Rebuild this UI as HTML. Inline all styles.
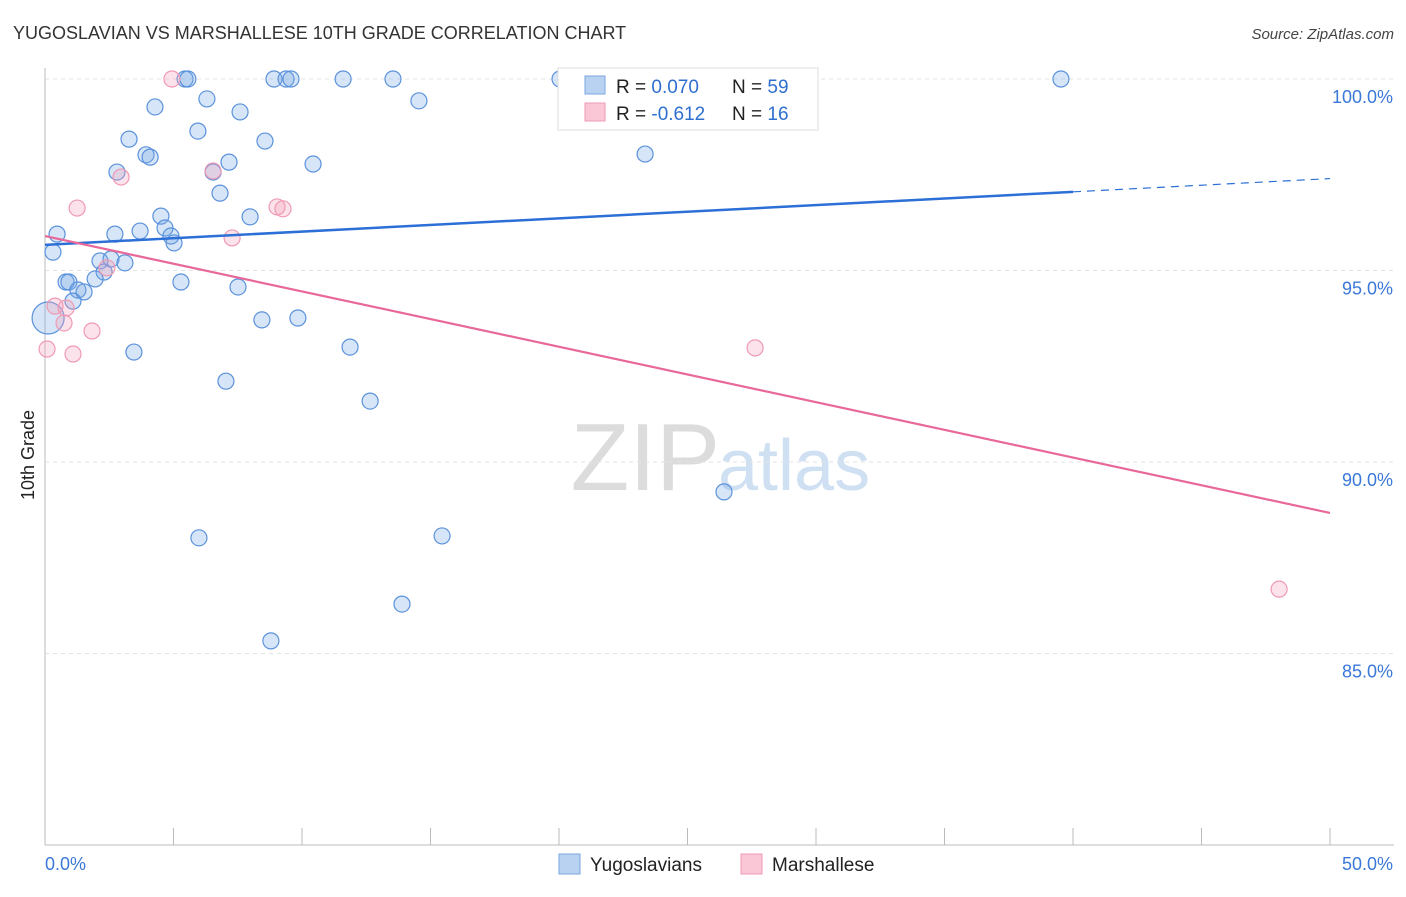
<!DOCTYPE html>
<html><head><meta charset="utf-8"><style>
body{margin:0;background:#fff;font-family:"Liberation Sans",sans-serif;}
svg text{font-family:"Liberation Sans",sans-serif;}
</style></head><body>
<svg id="chart" width="1406" height="892" xmlns="http://www.w3.org/2000/svg">
<text x="13" y="39" font-size="18" fill="#333">YUGOSLAVIAN VS MARSHALLESE 10TH GRADE CORRELATION CHART</text>
<text x="1394" y="39" font-size="15" fill="#444" text-anchor="end" font-style="italic">Source: ZipAtlas.com</text>
<text x="720" y="490" font-size="96" fill="#dcdcdc" text-anchor="end" font-family="Liberation Serif">ZIP</text>
<text x="718" y="490" font-size="72" fill="#cfe0f3">atlas</text>
<g id="grid"></g>
<g id="axes"></g>
<g id="marks"></g>
<text transform="translate(34,455) rotate(-90)" font-size="18" fill="#222" text-anchor="middle">10th Grade</text>
<g>
<rect x="558" y="68" width="260" height="62" fill="#fff" stroke="#ddd"/>
<rect x="585" y="76" width="20" height="18" fill="#b9d2f2" stroke="#7aa6e0"/>
<rect x="585" y="103" width="20" height="18" fill="#f9c7d5" stroke="#ee9ab2"/>
<text x="616" y="93" font-size="19" fill="#222">R = <tspan fill="#2f6fcf">0.070</tspan></text>
<text x="732" y="93" font-size="19" fill="#222">N = <tspan fill="#2f6fcf">59</tspan></text>
<text x="616" y="120" font-size="19" fill="#222">R = <tspan fill="#2f6fcf">-0.612</tspan></text>
<text x="732" y="120" font-size="19" fill="#222">N = <tspan fill="#2f6fcf"> 16</tspan></text>
</g>
<g>
<rect x="559" y="854" width="21" height="20" fill="#b9d2f2" stroke="#7aa6e0"/>
<text x="590" y="871" font-size="19" fill="#222">Yugoslavians</text>
<rect x="741" y="854" width="21" height="20" fill="#f9c7d5" stroke="#ee9ab2"/>
<text x="772" y="871" font-size="19" fill="#222">Marshallese</text>
</g>
</svg>
<script>
const xTicks=[0,5,10,15,20,25,30,35,40,45,50];
const yTicks=[85,90,95,100];
const yLabels=["85.0%","90.0%","95.0%","100.0%"];
const blueX=[0.47,0.31,0.82,0.93,1.28,1.52,1.09,2.14,2.30,2.57,1.95,3.11,2.72,3.70,4.51,4.67,4.90,5.02,3.27,4.28,3.93,4.09,2.80,5.95,6.30,7.59,6.54,7.16,6.81,7.98,8.56,10.43,5.29,7.51,3.46,7.04,8.44,9.84,11.87,12.65,5.99,15.45,13.89,8.79,5.45,5.56,8.91,9.38,9.57,11.60,13.54,14.55,20.04,20.62,23.35,26.42,39.53,0.12];
const blueY=[95.95,95.48,94.70,94.70,94.49,94.44,94.20,95.25,94.96,95.30,94.78,95.20,95.95,96.03,96.42,96.11,95.90,95.72,98.43,99.27,98.02,97.96,97.57,98.64,99.48,99.14,97.57,97.83,97.02,96.40,98.38,97.78,94.70,94.57,92.87,92.11,93.71,93.76,93.00,91.59,88.02,88.07,86.29,85.33,100,100,100,100,100,100,100,99.43,100,100,98.04,89.22,100,93.76];
const pinkX=[4.94,2.96,1.25,6.54,9.03,9.26,7.28,2.41,0.39,0.82,0.74,1.83,0.08,1.09,27.63,48.02];
const pinkY=[100,97.44,96.63,97.60,96.66,96.61,95.85,95.07,94.07,94.02,93.63,93.42,92.95,92.82,92.98,86.68];
const blueTrend=[95.67,97.40]; // y at x=0 and x=50
const pinkTrend=[95.90,88.67];
const X0=45,X1=1330,Y100=79,PXPER=38.3;
const sx=v=>X0+(v/50)*(X1-X0);
const sy=v=>Y100+(100-v)*PXPER;
const NS="http://www.w3.org/2000/svg";
function mk(tag,attrs,parent){const e=document.createElementNS(NS,tag);for(const k in attrs)e.setAttribute(k,attrs[k]);parent.appendChild(e);return e;}
const grid=document.getElementById('grid'),axes=document.getElementById('axes'),marks=document.getElementById('marks');
yTicks.forEach((t,i)=>{
 const l=mk('line',{x1:X0,x2:1394,y1:sy(t),y2:sy(t),stroke:'#e3e3e3','stroke-dasharray':'4,4'},grid);
 
 
 const tx=mk('text',{x:1393,y:sy(t)+24,'font-size':18,fill:'#3b78d8','text-anchor':'end'},axes);
 tx.textContent=yLabels[i];
 
 
});
const ax=mk('line',{x1:X0,x2:X0,y1:68,y2:845,stroke:'#bbb'},axes);


const bx=mk('line',{x1:X0,x2:1394,y1:845,y2:845,stroke:'#bbb'},axes);


xTicks.forEach(t=>{
 const l=mk('line',{x1:sx(t),x2:sx(t),y1:828,y2:845,stroke:'#bbb'},axes);
 
 
});
const xl0=mk('text',{x:45,y:870,'font-size':18,fill:'#3b78d8'},axes);xl0.textContent=xTicks[0].toFixed(1)+'%';


const xl1=mk('text',{x:1393,y:870,'font-size':18,fill:'#3b78d8','text-anchor':'end'},axes);xl1.textContent=xTicks[xTicks.length-1].toFixed(1)+'%';


blueX.forEach((x,i)=>{
 const c=mk('circle',{cx:sx(x),cy:sy(blueY[i]),r:i===blueX.length-1?16:8,fill:'rgba(120,168,230,0.3)',stroke:'#5b92dc','stroke-width':1.2},marks);
 
 
});
pinkX.forEach((x,i)=>{
 const c=mk('circle',{cx:sx(x),cy:sy(pinkY[i]),r:8,fill:'rgba(244,160,185,0.3)',stroke:'#ef9ab3','stroke-width':1.2},marks);
 
 
});
const by=x=>blueTrend[0]+(blueTrend[1]-blueTrend[0])*x/50;
const b1=mk('line',{x1:sx(0),y1:sy(by(0)),x2:sx(40),y2:sy(by(40)),stroke:'#2c6fd6','stroke-width':2.5},marks);


const b2=mk('line',{x1:sx(40),y1:sy(by(40)),x2:sx(50),y2:sy(by(50)),stroke:'#2c6fd6','stroke-width':1.2,'stroke-dasharray':'8,6'},marks);


const p1=mk('line',{x1:sx(0),y1:sy(pinkTrend[0]),x2:sx(50),y2:sy(pinkTrend[1]),stroke:'#e8689a','stroke-width':2.2},marks);


</script>
</body></html>
